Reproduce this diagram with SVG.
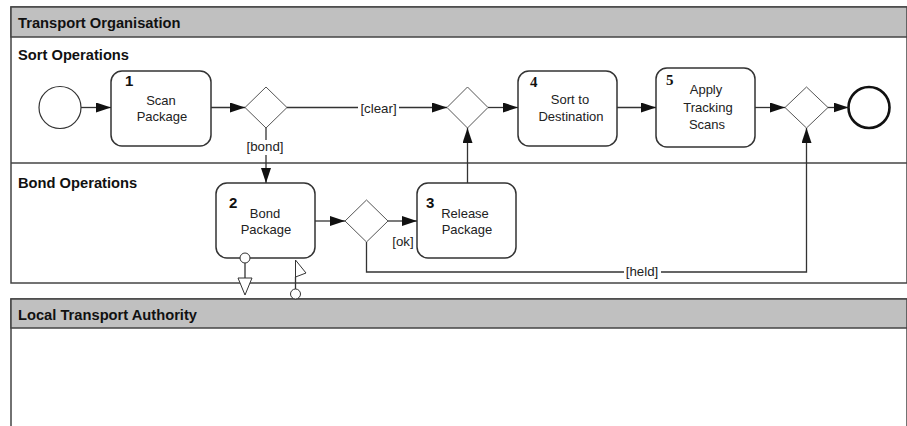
<svg xmlns="http://www.w3.org/2000/svg" width="907" height="426" viewBox="0 0 907 426">
<style>
.pool{fill:#fff;stroke:#444;stroke-width:1.5}
.hdr{fill:#c0c0c0;stroke:#444;stroke-width:1.5}
.lane{stroke:#444;stroke-width:1.5;fill:none}
.ht{font-family:"Liberation Sans",Arial,sans-serif;font-weight:bold;font-size:14.7px;fill:#111}
.task{fill:#fff;stroke:#333;stroke-width:1.5}
.tt{font-family:"Liberation Sans",Arial,sans-serif;font-size:13px;fill:#222;text-anchor:middle}
.num{font-family:"Liberation Sans",Arial,sans-serif;font-weight:bold;font-size:15px;fill:#111}
.nums{font-family:"Liberation Serif","Times New Roman",serif;font-weight:bold;font-size:15px;fill:#111}
.gw{fill:#fff;stroke:#555;stroke-width:1}
.flow{fill:none;stroke:#333;stroke-width:1.3}
.lbl{font-family:"Liberation Sans",Arial,sans-serif;font-size:13.3px;fill:#222;text-anchor:middle}
.lbg{fill:#fff;stroke:none}
.msg{fill:#fff;stroke:#333;stroke-width:1}
</style>
<defs>
<marker id="arr" markerUnits="userSpaceOnUse" markerWidth="16" markerHeight="12" refX="15" refY="5" orient="auto">
<path d="M0,0 L15,5 L0,10 z" fill="#111"/>
</marker>
</defs>
<rect x="0" y="0" width="907" height="426" fill="#fff"/>
<g id="pool-transport">
<rect class="pool" x="11" y="7" width="896" height="276"/>
<rect class="hdr" x="11" y="7" width="896" height="30"/>
<text class="ht" x="18" y="28">Transport Organisation</text>
<line class="lane" x1="11" y1="163" x2="907" y2="163"/>
<text class="ht" x="18" y="60">Sort Operations</text>
<text class="ht" x="18" y="188">Bond Operations</text>
</g>
<g id="pool-lta">
<rect class="pool" x="11" y="299" width="896" height="140"/>
<rect class="hdr" x="11" y="299" width="896" height="29"/>
<text class="ht" x="18" y="320">Local Transport Authority</text>
</g>
<g id="start">
<circle cx="60" cy="107.5" r="21" fill="#fff" stroke="#333" stroke-width="1.2"/>
</g>
<g id="task1">
<rect class="task" x="111" y="71" width="100" height="75" rx="11"/>
<text class="num" x="125" y="86">1</text>
<text class="tt" x="161" y="105">Scan</text>
<text class="tt" x="162" y="121">Package</text>
</g>
<g id="gw1"><polygon class="gw" points="266,87 287,107.5 266,128 245,107.5"/></g>
<g id="gw2"><polygon class="gw" points="467.5,87 488,107.5 467.5,128 447,107.5"/></g>
<g id="task4">
<rect class="task" x="518" y="71" width="99" height="75" rx="11"/>
<text class="nums" x="530" y="87">4</text>
<text class="tt" x="570" y="104">Sort to</text>
<text class="tt" x="571" y="121">Destination</text>
</g>
<g id="task5">
<rect class="task" x="656" y="68" width="99" height="79" rx="11"/>
<text class="nums" x="666" y="85">5</text>
<text class="tt" x="706" y="94">Apply</text>
<text class="tt" x="708" y="111.5">Tracking</text>
<text class="tt" x="707" y="129">Scans</text>
</g>
<g id="gw3"><polygon class="gw" points="806.5,87 828,107.5 806.5,128 785,107.5"/></g>
<g id="end"><circle cx="869" cy="107.5" r="20.5" fill="#fff" stroke="#111" stroke-width="2.6"/></g>
<g id="task2">
<rect class="task" x="216" y="183" width="99" height="75" rx="11"/>
<text class="num" x="229" y="208">2</text>
<text class="tt" x="265" y="218">Bond</text>
<text class="tt" x="266" y="234">Package</text>
</g>
<g id="gw4"><polygon class="gw" points="366.5,200 388,221 366.5,242 345,221"/></g>
<g id="task3">
<rect class="task" x="417" y="183" width="99" height="75" rx="11"/>
<text class="num" x="426" y="208">3</text>
<text class="tt" x="465" y="218">Release</text>
<text class="tt" x="467" y="234">Package</text>
</g>
<g id="connectors">
<line class="flow" x1="81" y1="107.5" x2="111" y2="107.5" marker-end="url(#arr)"/>
<line class="flow" x1="211" y1="107.5" x2="245" y2="107.5" marker-end="url(#arr)"/>
<line class="flow" x1="287" y1="107.5" x2="447" y2="107.5" marker-end="url(#arr)"/>
<rect class="lbg" x="358" y="100" width="41" height="16"/>
<text class="lbl" x="378.5" y="113">[clear]</text>
<line class="flow" x1="488" y1="107.5" x2="518" y2="107.5" marker-end="url(#arr)"/>
<line class="flow" x1="617" y1="107.5" x2="656" y2="107.5" marker-end="url(#arr)"/>
<line class="flow" x1="755" y1="107.5" x2="785" y2="107.5" marker-end="url(#arr)"/>
<line class="flow" x1="828" y1="107.5" x2="848.5" y2="107.5" marker-end="url(#arr)"/>
<line class="flow" x1="266" y1="128" x2="266" y2="183" marker-end="url(#arr)"/>
<rect class="lbg" x="245" y="140" width="40" height="15"/>
<text class="lbl" x="265" y="151">[bond]</text>
<line class="flow" x1="315" y1="221" x2="345" y2="221" marker-end="url(#arr)"/>
<line class="flow" x1="388" y1="221" x2="417" y2="221" marker-end="url(#arr)"/>
<text class="lbl" x="403" y="246">[ok]</text>
<line class="flow" x1="467.5" y1="183" x2="467.5" y2="128" marker-end="url(#arr)"/>
<polyline class="flow" points="366.5,242 366.5,272 806.5,272 806.5,128" marker-end="url(#arr)"/>
<rect class="lbg" x="624" y="265" width="37" height="14"/>
<text class="lbl" x="642" y="276">[held]</text>
<line class="flow" x1="245" y1="263" x2="245" y2="278"/>
<circle class="msg" cx="245" cy="258" r="5"/>
<polygon class="msg" points="238,278 252,278 245,295"/>
<line class="flow" x1="295.5" y1="277" x2="295.5" y2="289"/>
<polygon class="msg" points="295.5,260 306,273 295.5,277"/>
<circle class="msg" cx="295.5" cy="294" r="5"/>
</g>
</svg>
